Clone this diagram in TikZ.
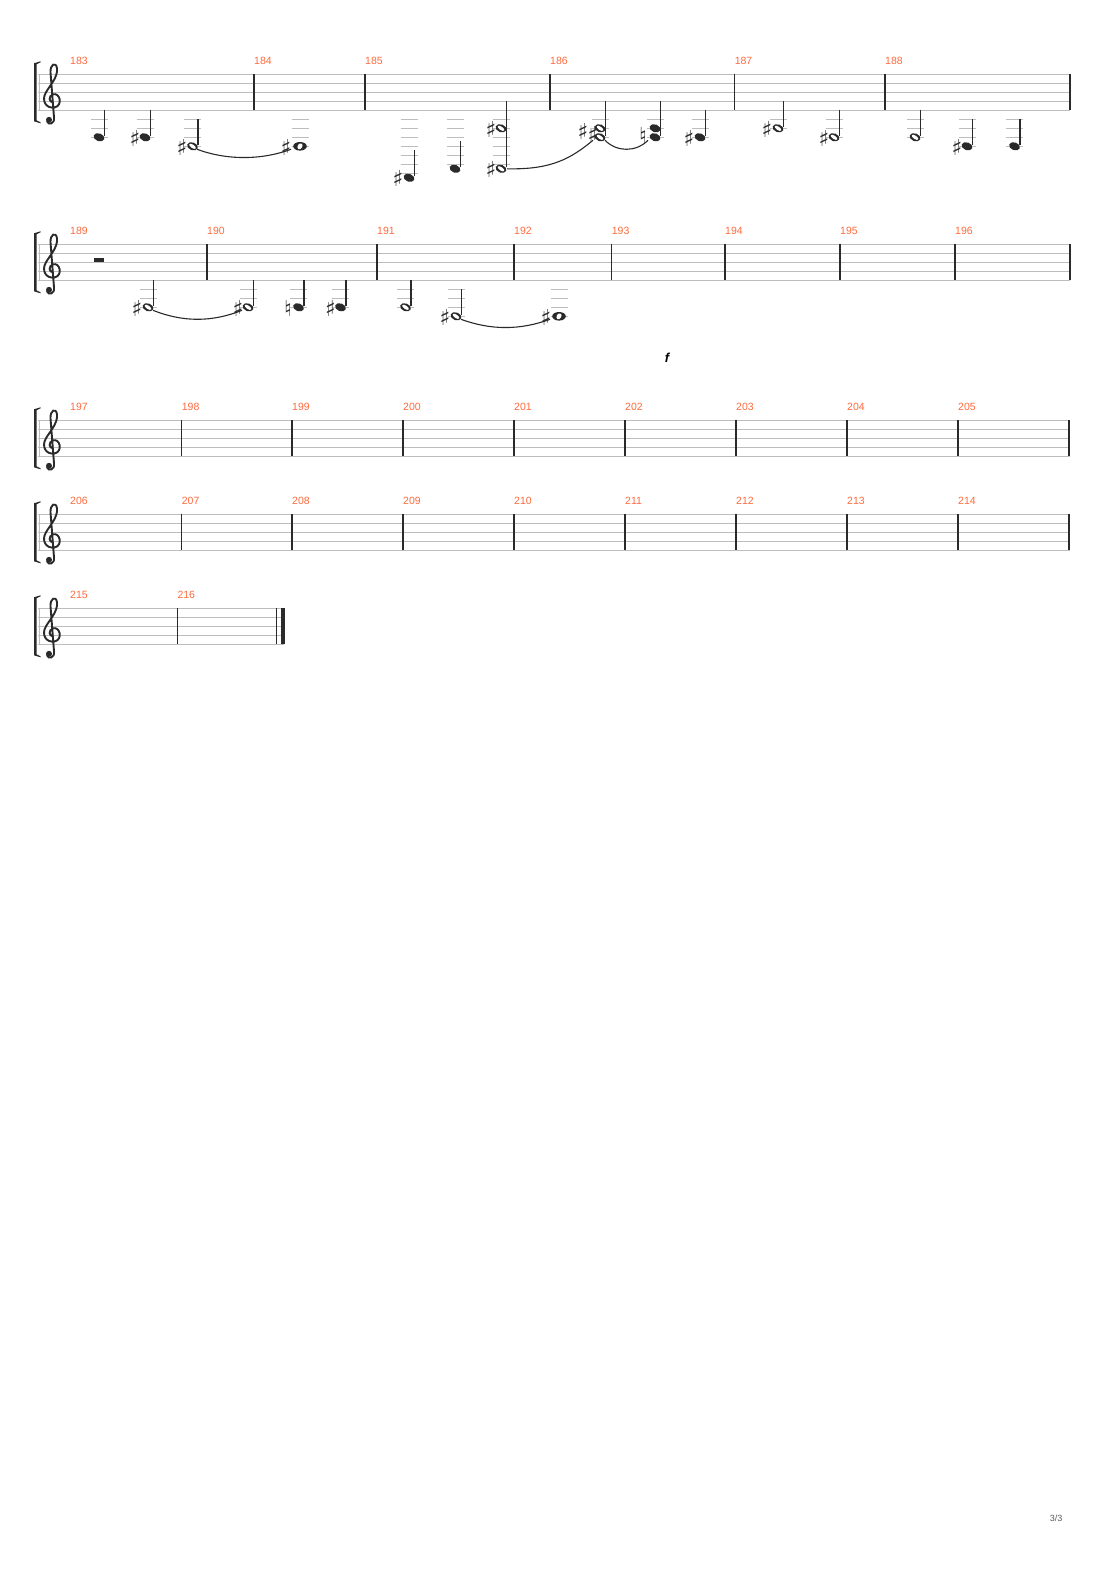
\documentclass[tikz,border=0pt]{standalone}
\usepackage{fontspec}
\setmainfont{Liberation Sans}
\newfontfamily\musik{DejaVu Sans}
\usepackage{tikz}
\usetikzlibrary{calc}
\definecolor{stafflinie}{HTML}{BDBDBD}
\definecolor{taktzahl}{HTML}{FF6A3D}
\definecolor{tinte}{HTML}{2A2A2A}
\tikzset{
  linie/.style={stafflinie,line width=1pt},
  takt/.style={tinte,line width=1.3pt},
  hals/.style={tinte,line width=1.2pt},
  ledger/.style={stafflinie,line width=1pt},
  zahl/.style={taktzahl,font=\fontsize{10.5}{12}\selectfont,anchor=west,inner sep=0pt},
  bogen/.style={tinte,line width=1.1pt},
  vz/.style={tinte,font=\musik\fontsize{22}{22}\selectfont,inner sep=0pt},
}
% one staff: top line y, right end x
\newcommand\notensystem[2]{%
  \foreach \i in {0,...,4} \draw[linie] (38,#1+9*\i) -- (#2,#1+9*\i);
  \draw[linie] (39,#1) -- (39,#1+36);
  \fill[tinte] (40.5,#1-13) .. controls (37,#1-12) .. (34,#1-11) -- (34,#1+47) .. controls (37,#1+48) .. (40.5,#1+49)
     -- (40.5,#1+48) .. controls (38,#1+47) .. (36.6,#1+46) -- (36.6,#1-10) .. controls (38,#1-11) .. (40.5,#1-12) -- cycle;
  % treble clef
  \draw[tinte,line width=1.9pt,line cap=round] (53,#1+28) .. controls (49,#1+28) and (48,#1+22) .. (53,#1+20)
     .. controls (60,#1+18) and (63,#1+31) .. (55,#1+33) .. controls (46,#1+35) and (41,#1+26) .. (46,#1+18)
     .. controls (50,#1+11) and (58,#1+3) .. (57,#1-6) .. controls (56,#1-13) and (50,#1-10) .. (50.5,#1-2)
     -- (54,#1+43) .. controls (55,#1+50) and (48,#1+51) .. (47,#1+47);
  \fill[tinte] (49,#1+45.5) circle (3);
}
\newcommand\kopfvoll[2]{\fill[tinte,rotate around={-20:(#1,#2)}] (#1,#2) ellipse [x radius=5.6,y radius=3.9];}
\newcommand\kopfhalb[2]{\fill[tinte,rotate around={-20:(#1,#2)}] (#1,#2) ellipse [x radius=5.6,y radius=3.9];
  \fill[white,rotate around={-35:(#1,#2)}] (#1,#2) ellipse [x radius=3.9,y radius=1.7];}
\newcommand\kopfganz[2]{\fill[tinte] (#1,#2) ellipse [x radius=6.8,y radius=4.3];
  \fill[white,rotate around={60:(#1,#2)}] (#1,#2) ellipse [x radius=3.2,y radius=2.3];}
% ledger lines below a staff: x, bottom line y, list of steps
\newcommand\hilfslinien[3]{\foreach \l in {#3} \draw[ledger] (#1-8.5,#2+4.5*\l) -- (#1+8.5,#2+4.5*\l);}
\newcommand\kreuz[2]{\node[vz] at (#1,#2) {♯};}
\newcommand\aufl[2]{\node[vz] at (#1,#2) {♮};}

\begin{document}
\begin{tikzpicture}[x=1pt,y=-1pt]
\useasboundingbox (0,0) rectangle (1110,1570);
\def\bA{110.3}\def\bB{280.3}

% ---- system 1 (183-188)
\notensystem{74.3}{1070}
\foreach \x in {254,365,550,734.6,885,1070} \draw[takt] (\x,74.3) -- (\x,110.3);
\foreach \n/\x in {183/70,184/254,185/365,186/550,187/734.6,188/885} \node[zahl] at (\x,61) {\n};

\hilfslinien{99}{\bA}{2,4,6} \kopfvoll{99}{\bA+27} \draw[hals] (104.3,\bA+26) -- (104.3,\bA);
\hilfslinien{145}{\bA}{2,4,6} \kreuz{135}{\bA+28} \kopfvoll{145}{\bA+27} \draw[hals] (150.5,\bA+26) -- (150.5,\bA);
\hilfslinien{192.5}{\bA}{2,4,6,8} \kreuz{182}{\bA+37} \kopfhalb{192.5}{\bA+36} \draw[hals] (198,\bA+35) -- (198,\bA+9);
\coordinate (a3) at (197,\bA+39);
\hilfslinien{300}{\bA}{2,4,6,8} \kreuz{286}{\bA+37} \kopfganz{300}{\bA+36}
\coordinate (a4) at (291,\bA+39);
\draw[bogen] (a3) .. controls ($(a3)+(30,11)$) and ($(a4)+(-30,11)$) .. (a4);

\hilfslinien{409}{\bA}{2,4,6,8,10,12,14} \kreuz{398}{\bA+68.5} \kopfvoll{409}{\bA+67.5} \draw[hals] (414.3,\bA+66) -- (414.3,\bA+40);
\hilfslinien{455}{\bA}{2,4,6,8,10,12} \kopfvoll{455}{\bA+58.5} \draw[hals] (460.5,\bA+57) -- (460.5,\bA+31);
\hilfslinien{501}{\bA}{2,4,6,8,10,12}
\kreuz{491}{\bA+19} \kopfhalb{501}{\bA+18} \kreuz{491}{\bA+59.5} \kopfhalb{501}{\bA+58.5}
\draw[hals] (506.8,\bA+57) -- (506.8,\bA-9);
\coordinate (a7) at (507,\bA+58.5);

\hilfslinien{600}{\bA}{2,4,6}
\kreuz{583}{\bA+21} \kreuz{593}{\bA+24} \kopfhalb{600}{\bA+18} \kopfhalb{600}{\bA+27}
\draw[hals] (605.8,\bA+26) -- (605.8,\bA-9);
\coordinate (b1) at (593,\bA+30);
\draw[bogen] (a7) .. controls ($(a7)+(45,1)$) and ($(b1)+(-22,18)$) .. (b1);
\coordinate (b1r) at (605,\bA+30);
\hilfslinien{655}{\bA}{2,4,6} \aufl{643}{\bA+25} \kopfvoll{655}{\bA+18} \kopfvoll{655}{\bA+27}
\draw[hals] (660.5,\bA+26) -- (660.5,\bA-9);
\coordinate (b2) at (648,\bA+30);
\draw[bogen] (b1r) .. controls ($(b1r)+(12,12)$) and ($(b2)+(-12,12)$) .. (b2);
\hilfslinien{700}{\bA}{2,4,6} \kreuz{689}{\bA+28} \kopfvoll{700}{\bA+27} \draw[hals] (705.5,\bA+26) -- (705.5,\bA);

\hilfslinien{778}{\bA}{2,4} \kreuz{767}{\bA+19} \kopfhalb{778}{\bA+18} \draw[hals] (783.3,\bA+17) -- (783.3,\bA-9);
\hilfslinien{834}{\bA}{2,4,6} \kreuz{824}{\bA+28} \kopfhalb{834}{\bA+27} \draw[hals] (839.5,\bA+26) -- (839.5,\bA);

\hilfslinien{915}{\bA}{2,4,6} \kopfhalb{915}{\bA+27} \draw[hals] (920.3,\bA+26) -- (920.3,\bA);
\hilfslinien{967}{\bA}{2,4,6,8} \kreuz{957}{\bA+37} \kopfvoll{967}{\bA+36} \draw[hals] (972.5,\bA+35) -- (972.5,\bA+9);
\hilfslinien{1014.5}{\bA}{2,4,6,8} \kopfvoll{1014.5}{\bA+36} \draw[hals] (1020,\bA+35) -- (1020,\bA+9);

% ---- system 2 (189-196)
\notensystem{244.3}{1070}
\foreach \x in {207,377,514,611.7,725,840,955,1070} \draw[takt] (\x,244.3) -- (\x,280.3);
\foreach \n/\x in {189/70,190/207,191/377,192/514,193/611.7,194/725,195/840,196/955} \node[zahl] at (\x,231) {\n};
\fill[tinte] (94,257.6) rectangle (103.5,262.3);

\hilfslinien{148}{\bB}{2,4,6} \kreuz{137}{\bB+28} \kopfhalb{148}{\bB+27} \draw[hals] (153.5,\bB+26) -- (153.5,\bB);
\coordinate (e1) at (153,\bB+30);
\hilfslinien{248}{\bB}{2,4,6} \kreuz{238}{\bB+28} \kopfhalb{248}{\bB+27} \draw[hals] (253.5,\bB+26) -- (253.5,\bB);
\coordinate (e2) at (242,\bB+30);
\draw[bogen] (e1) .. controls ($(e1)+(30,12)$) and ($(e2)+(-30,12)$) .. (e2);
\hilfslinien{298.5}{\bB}{2,4,6} \aufl{288}{\bB+28} \kopfvoll{298.5}{\bB+27} \draw[hals] (304,\bB+26) -- (304,\bB);
\hilfslinien{340.5}{\bB}{2,4,6} \kreuz{330.5}{\bB+28} \kopfvoll{340.5}{\bB+27} \draw[hals] (346,\bB+26) -- (346,\bB);
\hilfslinien{405.5}{\bB}{2,4,6} \kopfhalb{405.5}{\bB+27} \draw[hals] (411,\bB+26) -- (411,\bB);
\hilfslinien{456}{\bB}{2,4,6,8} \kreuz{445}{\bB+37} \kopfhalb{456}{\bB+36} \draw[hals] (461.5,\bB+35) -- (461.5,\bB+9);
\coordinate (f2) at (461,\bB+39);
\hilfslinien{559}{\bB}{2,4,6,8} \kreuz{546}{\bB+37} \kopfganz{559}{\bB+36}
\coordinate (g1) at (550,\bB+39);
\draw[bogen] (f2) .. controls ($(f2)+(30,11)$) and ($(g1)+(-30,11)$) .. (g1);
\node[font=\fontsize{13}{13}\selectfont\rmfamily\bfseries\itshape,inner sep=0pt] (dyn) at (667,358) {f};

% ---- systems 3 and 4
\foreach \t/\na in {420.3/197,514.3/206} {
  \notensystem{\t}{1070}
  \foreach \x in {181.7,292,403,514,625,736,847,958,1069} \draw[takt] (\x,\t) -- (\x,\t+36);
  \foreach \x [count=\j from 0] in {70,181.7,292,403,514,625,736,847,958} {
    \pgfmathtruncatemacro\nr{\na+\j}
    \node[zahl] at (\x,\t-13) {\nr};}
}

% ---- system 5
\notensystem{608.3}{284}
\draw[takt] (177.3,608.3) -- (177.3,644.3);
\draw[takt] (276.7,608.3) -- (276.7,644.3);
\fill[tinte] (280.5,608.3) rectangle (284.5,644.3);
\node[zahl] at (70,595) {215};
\node[zahl] at (177.3,595) {216};

\node[gray!70!black,font=\fontsize{9}{10}\selectfont] (seite) at (1056,1518) {3/3};
\end{tikzpicture}
\end{document}
